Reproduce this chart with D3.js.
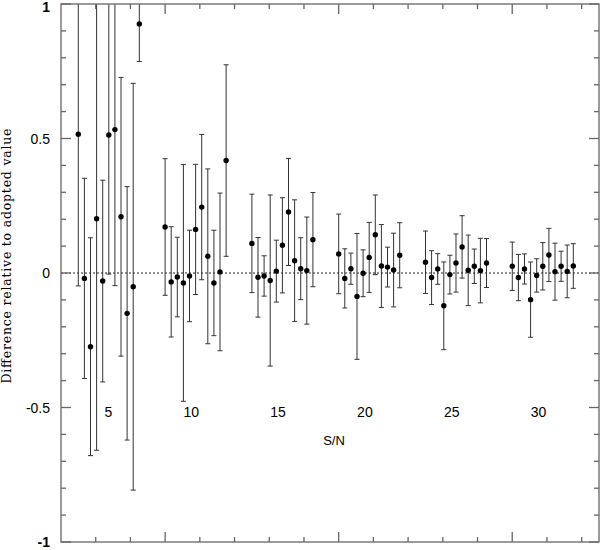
<!DOCTYPE html>
<html>
<head>
<meta charset="utf-8">
<script src="https://cdn.jsdelivr.net/npm/d3@7"></script>
<style>
body { margin: 0; background: #fff; }
svg text { font-family: "Liberation Sans", Arial, sans-serif; }
</style>
</head>
<body>
<div id="chart"></div>
<script>
// S/N groups and the difference (with error) for each of 11 runs per group
const snLabels = [5, 10, 15, 20, 25, 30];
const diff5  = [0.516, -0.020, -0.274, 0.202, -0.030, 0.513, 0.533, 0.209, -0.150, -0.051, 0.926];
const err5   = [0.564, 0.372, 0.405, 0.861, 0.375, 0.517, 0.580, 0.518, 0.471, 0.756, 0.140];
const diff10 = [0.171, -0.033, -0.015, -0.037, -0.011, 0.162, 0.245, 0.062, -0.037, 0.004, 0.418];
const err10  = [0.254, 0.205, 0.148, 0.440, 0.170, 0.242, 0.270, 0.325, 0.196, 0.293, 0.356];
const diff15 = [0.110, -0.016, -0.011, -0.028, 0.007, 0.103, 0.227, 0.046, 0.016, 0.009, 0.124];
const err15  = [0.183, 0.148, 0.075, 0.318, 0.115, 0.177, 0.199, 0.226, 0.115, 0.199, 0.175];
const diff20 = [0.071, -0.020, 0.016, -0.087, -0.001, 0.058, 0.142, 0.026, 0.022, 0.011, 0.066];
const err20  = [0.148, 0.110, 0.058, 0.234, 0.087, 0.130, 0.148, 0.154, 0.074, 0.137, 0.121];
const diff25 = [0.040, -0.017, 0.015, -0.122, -0.006, 0.037, 0.097, 0.010, 0.025, 0.009, 0.037];
const err25  = [0.116, 0.100, 0.057, 0.163, 0.072, 0.108, 0.116, 0.131, 0.064, 0.120, 0.091];
const diff30 = [0.025, -0.017, 0.015, -0.099, -0.009, 0.025, 0.067, 0.005, 0.025, 0.006, 0.026];
const err30  = [0.090, 0.086, 0.056, 0.140, 0.062, 0.088, 0.099, 0.106, 0.056, 0.098, 0.083];

const yTickLabels = [-1, -0.5, 0, 0.5, 1];
const xMajorTicks = [3, 8, 13];

let w = 600;
let h = 550;
let padL = 61, padR = 599, padT = 4, padB = 542;

const groups = [diff5, diff10, diff15, diff20, diff25, diff30];
const errs = [err5, err10, err15, err20, err25, err30];

let points = [];
snLabels.forEach((sn, g) => {
    groups[g].forEach((v, i) => {
        points.push({sn: sn, run: i, v: v, e: errs[g][i]});
    });
});

let svg = d3.select('#chart')
    .append('svg')
    .attr('width', w)
    .attr('height', h);

// frame scale (only used for the unlabelled ticks on the box)
let xFrame = d3.scaleLinear().domain([0, 15.5]).range([padL, padR]);
let y = d3.scaleLinear().domain([-1, 1]).range([padB, padT]);

// groups of runs
let xGroup = d3.scaleBand()
    .domain(snLabels)
    .range([78.3, 573.3])
    .paddingInner(0.297)
    .paddingOuter(0);
let xRun = d3.scalePoint()
    .domain(d3.range(11))
    .range([0, xGroup.bandwidth()]);

svg.append('clipPath').attr('id', 'clip')
    .append('rect')
    .attr('x', padL).attr('y', padT)
    .attr('width', padR - padL).attr('height', padB - padT);

// zero line
svg.append('line')
    .attr('x1', padL).attr('x2', padR)
    .attr('y1', y(0)).attr('y2', y(0))
    .attr('stroke', '#222')
    .attr('stroke-width', 1)
    .attr('stroke-dasharray', '2,2');

let plot = svg.append('g').attr('clip-path', 'url(#clip)');

let px = d => xGroup(d.sn) + xRun(d.run);

let bars = plot.selectAll('g.bar')
    .data(points)
    .enter()
    .append('g')
    .attr('class', 'bar')
    .attr('stroke', '#333')
    .attr('stroke-width', 1);

bars.append('line')
    .attr('x1', px).attr('x2', px)
    .attr('y1', d => y(d.v + d.e))
    .attr('y2', d => y(d.v - d.e));
bars.append('line')
    .attr('x1', d => px(d) - 2.5).attr('x2', d => px(d) + 2.5)
    .attr('y1', d => y(d.v + d.e)).attr('y2', d => y(d.v + d.e));
bars.append('line')
    .attr('x1', d => px(d) - 2.5).attr('x2', d => px(d) + 2.5)
    .attr('y1', d => y(d.v - d.e)).attr('y2', d => y(d.v - d.e));

plot.selectAll('circle')
    .data(points)
    .enter()
    .append('circle')
    .attr('cx', px)
    .attr('cy', d => y(d.v))
    .attr('r', 2.7)
    .attr('fill', '#000');

// box and ticks
let frame = svg.append('g').attr('stroke', '#666').attr('stroke-width', 1.3);
frame.append('rect')
    .attr('x', padL).attr('y', padT)
    .attr('width', padR - padL).attr('height', padB - padT)
    .attr('fill', 'none');

let yMinor = d3.range(-10, 11).map(k => k / 10);
yMinor.forEach(t => {
    let len = yTickLabels.includes(t) ? 10 : 5;
    frame.append('line').attr('x1', padL).attr('x2', padL + len).attr('y1', y(t)).attr('y2', y(t));
    frame.append('line').attr('x1', padR).attr('x2', padR - len).attr('y1', y(t)).attr('y2', y(t));
});
d3.range(1, 16).forEach(t => {
    let len = xMajorTicks.includes(t) ? 10 : 5;
    frame.append('line').attr('x1', xFrame(t)).attr('x2', xFrame(t)).attr('y1', padB).attr('y2', padB - len);
    frame.append('line').attr('x1', xFrame(t)).attr('x2', xFrame(t)).attr('y1', padT).attr('y2', padT + len);
});

svg.selectAll('text.ylab')
    .data(yTickLabels)
    .enter()
    .append('text')
    .attr('class', 'ylab')
    .attr('x', 50)
    .attr('y', d => Math.min(Math.max(y(d) + 5, 12), 548))
    .attr('text-anchor', 'end')
    .attr('font-size', 14)
    .attr('font-weight', d => Math.abs(d) === 1 ? 'bold' : 'normal')
    .text(d => d);

// S/N labels inside the plot
svg.selectAll('text.sn')
    .data(snLabels)
    .enter()
    .append('text')
    .attr('class', 'sn')
    .attr('x', d => xGroup(d) + xGroup.bandwidth() / 2 + 3.5)
    .attr('y', 416.5)
    .attr('text-anchor', 'end')
    .attr('font-size', 14)
    .text(d => d);

svg.append('text')
    .attr('x', 334)
    .attr('y', 445)
    .attr('text-anchor', 'middle')
    .attr('font-size', 13)
    .text('S/N');

svg.append('text')
    .attr('transform', 'translate(11,256) rotate(-90)')
    .attr('text-anchor', 'middle')
    .attr('font-size', 12.5)
    .style('font-family', '"DejaVu Serif", serif')
    .attr('textLength', 255)
    .attr('lengthAdjust', 'spacing')
    .text('Difference relative to adopted value');
</script>
</body>
</html>
